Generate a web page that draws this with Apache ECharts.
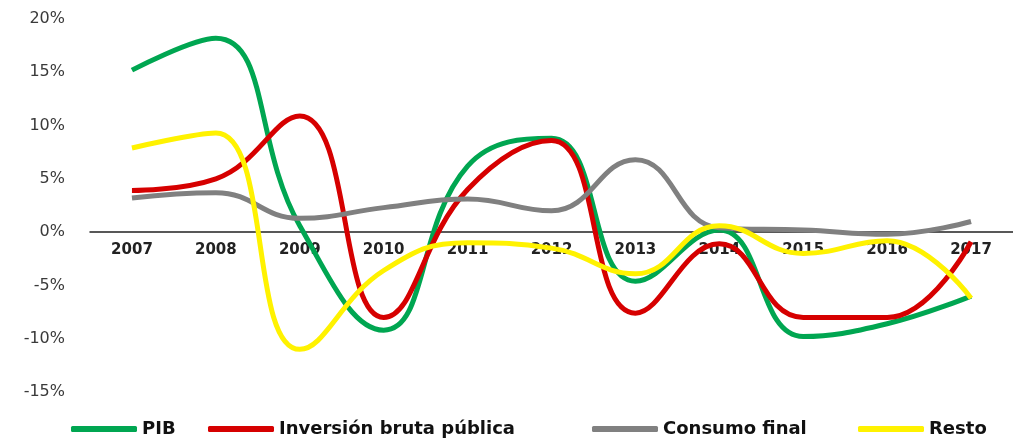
<!DOCTYPE html>
<html>
<head>
<meta charset="utf-8">
<script src="https://cdn.jsdelivr.net/npm/echarts@6/dist/echarts.min.js"></script>
<style>
html,body{margin:0;padding:0;background:#fff;}
#c{width:1013px;height:442px;}
</style>
</head>
<body>
<div id="c"></div>
<script>
var years = ['2007','2008','2009','2010','2011','2012','2013','2014','2015','2016','2017'];
var pib = [15.2, 18.2, 0.6, -9.2, 6.2, 8.8, -4.6, 0.2, -9.8, -8.6, -6.0];
var inversion = [3.9, 5.0, 10.9, -8.0, 4.0, 8.6, -7.6, -1.1, -8.0, -8.0, -0.9];
var consumo = [3.2, 3.7, 1.3, 2.3, 3.1, 2.0, 6.8, 0.4, 0.2, -0.2, 1.0];
var resto = [7.9, 9.3, -11.0, -3.6, -1.0, -1.5, -3.9, 0.6, -2.0, -0.8, -6.2];
var names = ['PIB', 'Inversión bruta pública', 'Consumo final', 'Resto'];
var colors = ['#00A651', '#D60000', '#808080', '#FFF200'];
var yMin = -15, yMax = 20;

var gridTop = 19, gridBottom = 50, H = 442;
var gridH = H - gridTop - gridBottom;
var zeroOffset = -gridH * (0 - yMin) / (yMax - yMin);

var chart = echarts.init(document.getElementById('c'));
function mk(name, data, color) {
  return {
    name: name, type: 'line', data: data, smooth: 0.45, showSymbol: false, symbol: 'none',
    lineStyle: {width: 5, color: color}, itemStyle: {color: color}
  };
}
var legendLefts = [71, 208, 592, 858];
var legends = names.map(function (n, i) {
  return {
    data: [n], left: legendLefts[i], top: 420, padding: 0,
    itemWidth: 66, itemHeight: 6, icon: 'roundRect',
    textStyle: {color: '#111', fontFamily: 'DejaVu Sans', fontWeight: 'bold', fontSize: 18}
  };
});
chart.setOption({
  animation: false,
  backgroundColor: '#fff',
  grid: {left: 90, top: gridTop, width: 932, bottom: gridBottom, containLabel: false},
  xAxis: {
    type: 'category', data: years, boundaryGap: true,
    offset: zeroOffset,
    axisLine: {onZero: false, lineStyle: {color: '#222', width: 1.5}},
    axisTick: {show: false},
    axisLabel: {color: '#222', fontFamily: 'DejaVu Sans', fontWeight: 'bold', fontSize: 15, margin: 10}
  },
  yAxis: {
    type: 'value', min: yMin, max: yMax, interval: 5,
    axisLine: {show: false}, axisTick: {show: false}, splitLine: {show: false},
    axisLabel: {color: '#3a3a3a', fontFamily: 'DejaVu Sans', fontSize: 16, margin: 25, formatter: '{value}%'}
  },
  legend: legends,
  series: [
    mk(names[0], pib, colors[0]),
    mk(names[1], inversion, colors[1]),
    mk(names[2], consumo, colors[2]),
    mk(names[3], resto, colors[3])
  ]
});
</script>
</body>
</html>
